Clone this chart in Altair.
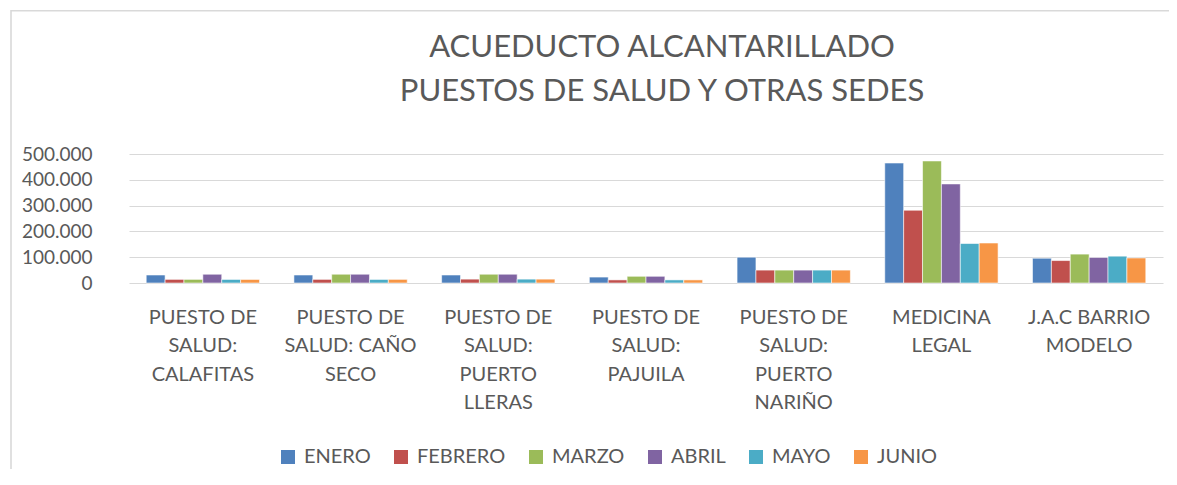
import altair as alt
import pandas as pd

categories = [
    "PUESTO DE\nSALUD:\nCALAFITAS",
    "PUESTO DE\nSALUD: CAÑO\nSECO",
    "PUESTO DE\nSALUD:\nPUERTO\nLLERAS",
    "PUESTO DE\nSALUD:\nPAJUILA",
    "PUESTO DE\nSALUD:\nPUERTO\nNARIÑO",
    "MEDICINA\nLEGAL",
    "J.A.C BARRIO\nMODELO",
]
months = ["ENERO", "FEBRERO", "MARZO", "ABRIL", "MAYO", "JUNIO"]
colors = ["#4F81BD", "#C0504D", "#9BBB59", "#8064A2", "#4BACC6", "#F79646"]

enero = [31000, 31000, 31000, 23000, 100000, 465000, 96000]
febrero = [14000, 14000, 15000, 12000, 50000, 282000, 87000]
marzo = [14000, 34000, 34000, 26000, 50000, 473000, 112000]
abril = [34000, 34000, 34000, 26000, 50000, 384000, 99000]
mayo = [14000, 14000, 15000, 12000, 50000, 153000, 104000]
junio = [14000, 14000, 15000, 12000, 50000, 155000, 97000]

series = [enero, febrero, marzo, abril, mayo, junio]
rows = []
for m, vals in zip(months, series):
    for c, v in zip(categories, vals):
        rows.append({"cat": c, "mes": m, "valor": v})
df = pd.DataFrame(rows)

FONT = "Lato"
GRAY = "#595959"
FRAME = "#d9d9d9"

bars = alt.Chart(df).mark_bar(stroke="#ffffff", strokeWidth=0.8, strokeOpacity=0.7).encode(
    x=alt.X("cat:N", sort=categories, title=None,
            scale=alt.Scale(paddingInner=0.233, paddingOuter=0.1165),
            axis=alt.Axis(labelExpr="split(datum.label, '\\n')", labelAngle=0,
                          labelFont=FONT, labelFontSize=20, labelColor=GRAY,
                          labelLineHeight=28.5, labelPadding=24, labelBaseline="top",
                          ticks=False, domain=False, grid=False)),
    xOffset=alt.XOffset("mes:N", sort=months, scale=alt.Scale(paddingInner=0, paddingOuter=0)),
    y=alt.Y("valor:Q", title=None,
            scale=alt.Scale(domain=[0, 500000], nice=False),
            axis=alt.Axis(values=[0, 100000, 200000, 300000, 400000, 500000],
                          labelExpr="replace(format(datum.value, ','), ',', '.')",
                          labelFont=FONT, labelFontSize=19, labelColor=GRAY,
                          labelPadding=37, ticks=False, domain=False,
                          gridColor="#d9d9d9", gridWidth=1.2)),
    color=alt.Color("mes:N", sort=months,
                    scale=alt.Scale(domain=months, range=colors),
                    legend=alt.Legend(title=None, orient="none", direction="horizontal",
                                      legendX=149, legendY=293, padding=0,
                                      symbolType="square", symbolSize=196,
                                      symbolStrokeWidth=0, labelOffset=6,
                                      columnPadding=20,
                                      labelFont=FONT, labelFontSize=20,
                                      labelColor=GRAY)),
)

# Decorative chart-area frame (top and left edges visible in the reference)
frame_df = pd.DataFrame({"k": [0]})
frame_top = alt.Chart(frame_df).mark_rule(color=FRAME, strokeWidth=1.6).encode(
    x=alt.value(-118), x2=alt.value(1040), y=alt.value(-143.2)
)
frame_left = alt.Chart(frame_df).mark_rule(color=FRAME, strokeWidth=1.6).encode(
    x=alt.value(-118), y=alt.value(-144), y2=alt.value(315)
)

chart = alt.layer(frame_top, frame_left, bars).properties(
    width=1034,
    height=129,
    title=alt.TitleParams(
        text=["ACUEDUCTO ALCANTARILLADO", "PUESTOS DE SALUD Y OTRAS SEDES"],
        font=FONT, fontSize=31, fontWeight="normal", color=GRAY,
        lineHeight=44, anchor="middle", offset=-99, dx=16,
    ),
    autosize=alt.AutoSizeParams(type="none"),
    padding={"left": 121, "top": 146, "right": 6, "bottom": 194},
).configure_view(stroke=None)

chart.save("out.html", embed_options={"renderer": "svg", "actions": False})
